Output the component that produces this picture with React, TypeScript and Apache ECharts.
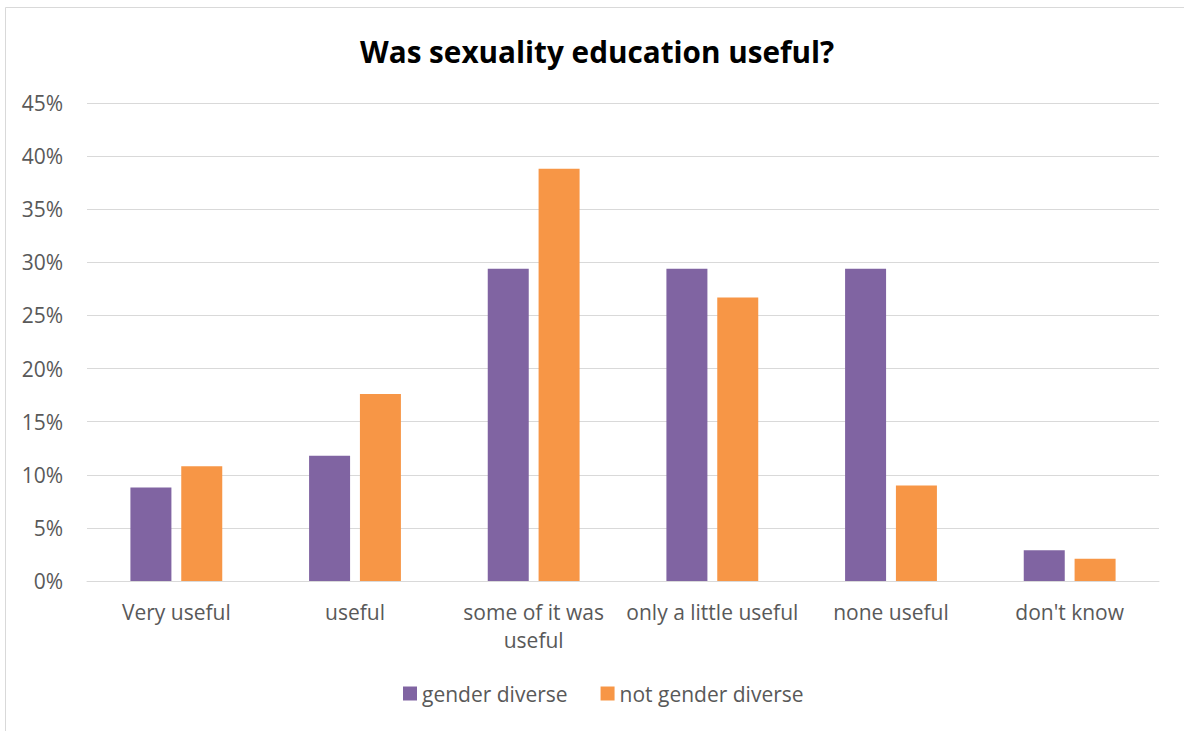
import React, { useEffect, useRef } from "react";
import * as echarts from "echarts";

const categories = ["Very useful", "useful", "some of it was\nuseful", "only a little useful", "none useful", "don't know"];
const genderDiverse = [8.8, 11.8, 29.4, 29.4, 29.4, 2.9];
const notGenderDiverse = [10.8, 17.6, 38.8, 26.7, 9.0, 2.1];
const seriesNames = ["gender diverse", "not gender diverse"];

const FONT = "'Open Sans', 'Noto Sans', sans-serif";

export default function App() {
  const ref = useRef<HTMLDivElement>(null);
  useEffect(() => {
    if (!ref.current) return;
    const chart = echarts.init(ref.current, null, { renderer: "svg" });
    chart.setOption({
      animation: false,
      backgroundColor: "#ffffff",
      textStyle: { fontFamily: FONT },
      graphic: [
        {
          type: "rect",
          shape: { x: 5.5, y: 7.5, width: 1300, height: 800 },
          style: { fill: "none", stroke: "#d9d9d9", lineWidth: 1 },
          silent: true,
          z: -10,
        },
      ],
      title: {
        text: "Was sexuality education useful?",
        left: 355,
        top: 31,
        textStyle: { fontFamily: FONT, fontSize: 29.7, fontWeight: "bold", color: "#000000" },
      },
      legend: {
        bottom: 22,
        left: 398,
        itemWidth: 14,
        itemHeight: 14,
        itemGap: 33,
        icon: "rect",
        textStyle: { fontFamily: FONT, fontSize: 21, color: "#595959" },
        data: seriesNames,
      },
      grid: { left: 87, right: 25, top: 103, bottom: 150, containLabel: false },
      xAxis: {
        type: "category",
        data: categories,
        axisLine: { lineStyle: { color: "#d9d9d9", width: 1 } },
        axisTick: { show: false },
        axisLabel: { fontFamily: FONT, fontSize: 21, color: "#595959", margin: 17, lineHeight: 28, interval: 0 },
      },
      yAxis: {
        type: "value",
        min: 0,
        max: 45,
        interval: 5,
        axisLine: { show: false },
        axisTick: { show: false },
        splitLine: { lineStyle: { color: "#d9d9d9", width: 1 } },
        axisLabel: { fontFamily: FONT, fontSize: 21, color: "#595959", margin: 24, formatter: "{value}%" },
      },
      series: [
        {
          name: seriesNames[0],
          type: "bar",
          data: genderDiverse,
          barWidth: 41,
          barGap: "24%",
          itemStyle: { color: "#8064A2" },
        },
        {
          name: seriesNames[1],
          type: "bar",
          data: notGenderDiverse,
          barWidth: 41,
          itemStyle: { color: "#F79646" },
        },
      ],
    });
    return () => chart.dispose();
  }, []);
  return (
    <div
      ref={ref}
      style={{ position: "absolute", left: 0, top: 0, width: 1184, height: 731 }}
    />
  );
}
